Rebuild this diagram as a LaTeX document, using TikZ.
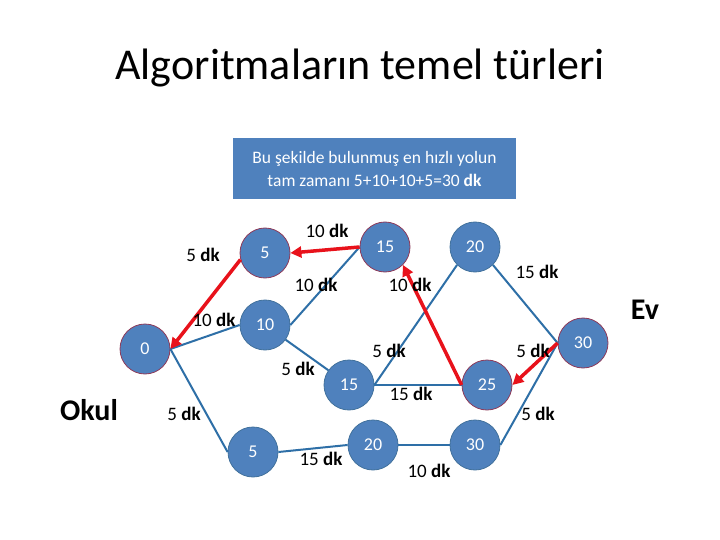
\documentclass[tikz,border=0pt]{standalone}
\usepackage{fontspec}
\setmainfont{Carlito}
\usetikzlibrary{arrows.meta}
\definecolor{nodefill}{HTML}{4F81BD}
\definecolor{redborder}{HTML}{8E3A59}
\definecolor{blueborder}{HTML}{41719C}
\definecolor{bluelink}{HTML}{2E6FA7}
\definecolor{redlink}{HTML}{E8121B}
\tikzset{
  vert/.style={circle, minimum size=50pt, inner sep=0pt, fill=nodefill, draw=blueborder, line width=0.8pt, text=white, font=\fontsize{18}{21}\selectfont},
  pathvert/.style={vert, draw=redborder},
  blink/.style={draw=bluelink, line width=2pt},
  rlink/.style={draw=redlink, line width=3.5pt, -{Triangle[length=11pt,width=11pt]}},
  lbl/.style={font=\fontsize{19}{22}\selectfont, inner sep=0pt},
  big/.style={font=\bfseries\fontsize{30}{36}\selectfont, inner sep=0pt}
}
\begin{document}
\begin{tikzpicture}[x=1pt,y=-1pt]
\useasboundingbox (0,0) rectangle (720,540);
\fill[white] (0,0) rectangle (720,540);
\node[font=\fontsize{44}{52}\selectfont, inner sep=0pt] (title) at (360,68) {Algoritmaların temel türleri};
\node[fill=nodefill, minimum width=283pt, minimum height=61pt, inner sep=0pt, text=white, align=center, font=\fontsize{17.5}{23}\selectfont] (box) at (374.5,168.5) {Bu şekilde bulunmuş en hızlı yolun\\tam zamanı 5+10+10+5=30 \textbf{dk}};

\node[pathvert] (n0) at (145,349) {0};
\node[pathvert] (a5) at (265,253) {5};
\node[pathvert] (a15) at (385,247) {15};
\node[vert] (a20) at (475,247) {20};
\node[vert] (b10) at (265,325) {10};
\node[vert] (b15) at (349,385) {15};
\node[pathvert] (b25) at (487,385) {25};
\node[pathvert] (e30) at (583,343) {30};
\node[vert] (c5) at (253,452) {5};
\node[vert] (c20) at (373,445) {20};
\node[vert] (c30) at (475,445) {30};

\draw[blink] (n0.east) -- (b10.west);
\draw[blink] (n0.east) -- (c5.west);
\draw[blink] (b10.east) -- (a15.west);
\draw[blink] (b10) -- (b15);
\draw[blink] (b15.east) -- (a20.225);
\draw[blink] (b15.east) -- (b25.west);
\draw[blink] (a20.-45) -- (e30.west);
\draw[blink] (c30.east) -- (e30.west);
\draw[blink] (c5.east) -- (c20.west);
\draw[blink] (c20.east) -- (c30.west);

\draw[rlink] (a15.west) -- (a5.east);
\draw[rlink] (a5.195) -- (n0.east);
\draw[rlink] (b25.west) -- (a15.-45);
\draw[rlink] (e30.west) -- (b25.east);

\node[lbl] (l1) at (203,255) {5 \textbf{dk}};
\node[lbl] (l2) at (327,231) {10 \textbf{dk}};
\node[lbl] (l3) at (316,285) {10 \textbf{dk}};
\node[lbl] (l4) at (410,285) {10 \textbf{dk}};
\node[lbl] (l5) at (537,272) {15 \textbf{dk}};
\node[lbl] (l6) at (214,320) {10 \textbf{dk}};
\node[lbl] (l7) at (389,351) {5 \textbf{dk}};
\node[lbl] (l8) at (533,351) {5 \textbf{dk}};
\node[lbl] (l9) at (298,369) {5 \textbf{dk}};
\node[lbl] (l10) at (411,394) {15 \textbf{dk}};
\node[lbl] (l11) at (184,414) {5 \textbf{dk}};
\node[lbl] (l12) at (538,414) {5 \textbf{dk}};
\node[lbl] (l13) at (321,459) {15 \textbf{dk}};
\node[lbl] (l14) at (429,471) {10 \textbf{dk}};

\node[big] (okul) at (89,410) {Okul};
\node[big] (ev) at (645,310) {Ev};
\end{tikzpicture}
\end{document}
